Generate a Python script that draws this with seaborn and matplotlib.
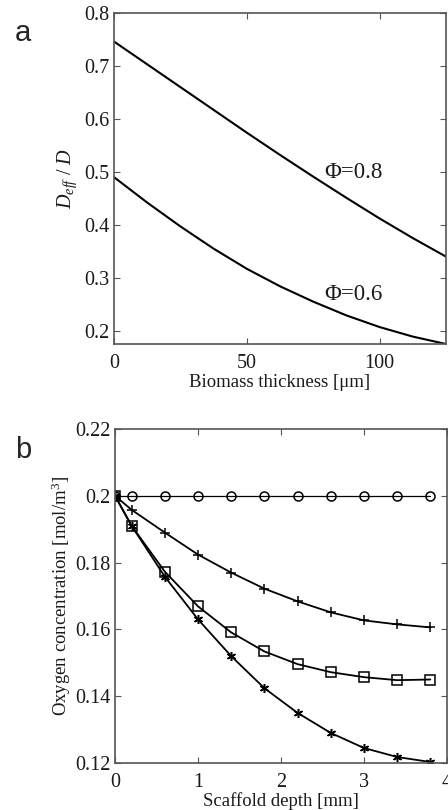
import numpy as np
import pandas as pd
import matplotlib
matplotlib.use("Agg")
import matplotlib.pyplot as plt
import seaborn as sns

# ---- Panel a data ----
thickness = [0, 12.5, 25, 37.5, 50, 62.5, 75, 87.5, 100, 112.5, 125]
deff_phi08 = [0.746, 0.703, 0.660, 0.617, 0.574, 0.532, 0.491, 0.451, 0.412, 0.375, 0.340]
deff_phi06 = [0.490, 0.442, 0.397, 0.355, 0.317, 0.284, 0.255, 0.229, 0.207, 0.189, 0.175]
label_08 = "Φ=0.8"
label_06 = "Φ=0.6"

# ---- Panel b data ----
depth = [0, 0.2, 0.6, 1.0, 1.4, 1.8, 2.2, 2.6, 3.0, 3.4, 3.8]
conc_circle = [0.2, 0.2, 0.2, 0.2, 0.2, 0.2, 0.2, 0.2, 0.2, 0.2, 0.2]
conc_plus = [0.2, 0.1958, 0.189, 0.1824, 0.177, 0.1722, 0.1684, 0.1651, 0.1627, 0.1615, 0.1606]
conc_square = [0.2, 0.191, 0.1773, 0.1669, 0.1591, 0.1534, 0.1496, 0.1472, 0.1457, 0.1448, 0.1450]
conc_star = [0.2, 0.191, 0.1758, 0.163, 0.152, 0.1424, 0.135, 0.129, 0.1245, 0.1218, 0.1203]

a_xticks = [0, 50, 100]
a_yticks = [0.2, 0.3, 0.4, 0.5, 0.6, 0.7, 0.8]
b_xticks = [0, 1, 2, 3, 4]
b_yticks = [0.12, 0.14, 0.16, 0.18, 0.2, 0.22]
b_yticklabels = ["0.12", "0.14", "0.16", "0.18", "0.2", "0.22"]

sns.set_style("ticks")
plt.rcParams["font.family"] = ["Liberation Serif", "DejaVu Serif"]
plt.rcParams["mathtext.fontset"] = "custom"
plt.rcParams["mathtext.rm"] = "Liberation Serif"
plt.rcParams["mathtext.it"] = "Liberation Serif:italic"
FS_TICK = 14.5
FS_LAB = 13.5
FS_PHI = 16.5
spine_col = "#555555"
txt_col = "#1a1a1a"

fig = plt.figure(figsize=(4.48, 8.10), dpi=100)
axa = fig.add_axes([0.2545, 0.5753, 0.741, 0.4087])
axb = fig.add_axes([0.2567, 0.058, 0.741, 0.4124])

def style(ax):
    for s in ax.spines.values():
        s.set_visible(True)
        s.set_color(spine_col)
        s.set_linewidth(1.2)
    ax.tick_params(direction="in", length=4, width=0.8, color=spine_col,
                   top=True, right=True, labelsize=FS_TICK, labelcolor=txt_col, pad=3)
    ax.tick_params(axis="x", pad=7)

# Panel a
dfa = pd.DataFrame({"x": thickness * 2,
                    "y": deff_phi08 + deff_phi06,
                    "s": [label_08] * len(thickness) + [label_06] * len(thickness)})
sns.lineplot(data=dfa, x="x", y="y", units="s", estimator=None, color="black",
             linewidth=1.5, ax=axa, legend=False)
axa.set_xlim(0, 125)
axa.set_ylim(0.175, 0.8)
axa.set_xticks(a_xticks)
axa.set_yticks(a_yticks)
axa.set_xlabel("Biomass thickness [μm]", fontsize=FS_LAB, labelpad=1, color=txt_col)
axa.set_ylabel(r"$D_{eff}\ /\ D$", fontsize=FS_LAB + 1, labelpad=4, color=txt_col)
axa.text(79, 0.498, label_08, fontsize=FS_PHI, va="center", ha="left", color=txt_col)
axa.text(79, 0.268, label_06, fontsize=FS_PHI, va="center", ha="left", color=txt_col)
style(axa)

# Panel b
series = [(conc_circle, "o", 0.9), (conc_plus, "+", 1.3), (conc_square, "s", 1.3),
          (conc_star, (6, 2, 0), 1.3)]
for vals, mk, lw in series:
    sns.lineplot(x=depth, y=vals, color="black", linewidth=lw, marker=mk,
                 markersize=6.5, markerfacecolor="none", markeredgecolor="black",
                 markeredgewidth=1.1, ax=axb, legend=False, estimator=None)
axb.set_xlim(0, 4)
axb.set_ylim(0.12, 0.22)
axb.set_xticks(b_xticks)
axb.set_yticks(b_yticks)
axb.set_yticklabels(b_yticklabels)
axb.set_xlabel("Scaffold depth [mm]", fontsize=FS_LAB, labelpad=0, color=txt_col)
axb.set_ylabel(r"Oxygen concentration [mol/m$^3$]", fontsize=FS_LAB, labelpad=2, color=txt_col)
style(axb)

fig.text(0.033, 1 - 41 / 810, "a", fontsize=21, family="Liberation Sans", va="baseline")
fig.text(0.033, 1 - 458 / 810, "b", fontsize=21, family="Liberation Sans", va="baseline")

fig.savefig("out.png", dpi=100)
